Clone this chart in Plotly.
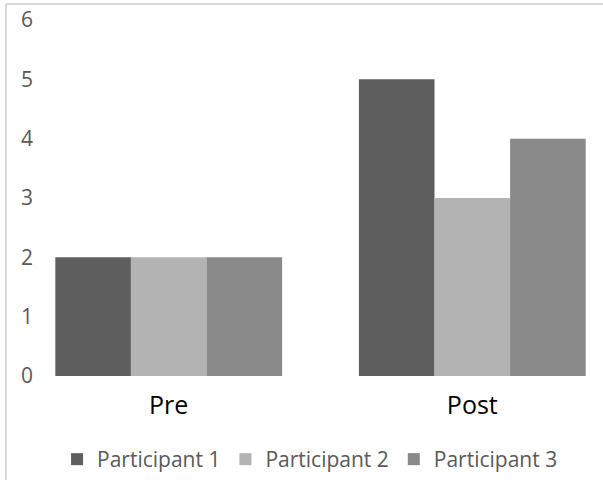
import plotly.graph_objects as go

categories = ["Pre", "Post"]
series_names = ["Participant 1", "Participant 2", "Participant 3"]
participant1 = [2, 5]
participant2 = [2, 3]
participant3 = [2, 4]
colors = ["#5e5e5e", "#b3b3b3", "#898989"]
y_ticks = [0, 1, 2, 3, 4, 5, 6]

fig = go.Figure()
for name, vals, col in zip(series_names, [participant1, participant2, participant3], colors):
    fig.add_trace(go.Bar(x=categories, y=vals, name=name,
                         marker=dict(color=col, line=dict(width=0))))

fig.update_layout(
    width=603, height=480,
    margin=dict(l=45, r=0, t=20, b=104),
    paper_bgcolor="white", plot_bgcolor="white",
    barmode="group", bargap=0.253, bargroupgap=0,
    font=dict(family="Open Sans, Noto Sans, sans-serif", color="#595959"),
    showlegend=True,
    legend=dict(orientation="h", x=0.475, xanchor="center", y=-0.236, yanchor="middle",
                font=dict(size=21, color="#595959"), traceorder="normal",
                itemwidth=30, itemsizing="constant"),
    xaxis=dict(range=[-0.4075, 1.4305], showgrid=False, showline=False, zeroline=False,
               tickfont=dict(size=25, color="#000000"), ticks="", ticklabelstandoff=12),
    yaxis=dict(range=[0, 6], tickvals=y_ticks, showgrid=False, showline=False, zeroline=False,
               tickfont=dict(size=21, color="#595959"), ticks="", ticklabelstandoff=11),
    shapes=[
        dict(type="line", xref="paper", yref="paper", x0=-0.0699, x1=-0.0699, y0=-0.3, y1=1.045,
             line=dict(color="#d9d9d9", width=2)),
        dict(type="line", xref="paper", yref="paper", x0=-0.0699, x1=1.01, y0=1.045, y1=1.045,
             line=dict(color="#d9d9d9", width=2)),
    ],
)

fig.write_html("out.html", config={"displayModeBar": False},
               post_script="document.body.style.margin='0';document.body.style.overflow='hidden';")
